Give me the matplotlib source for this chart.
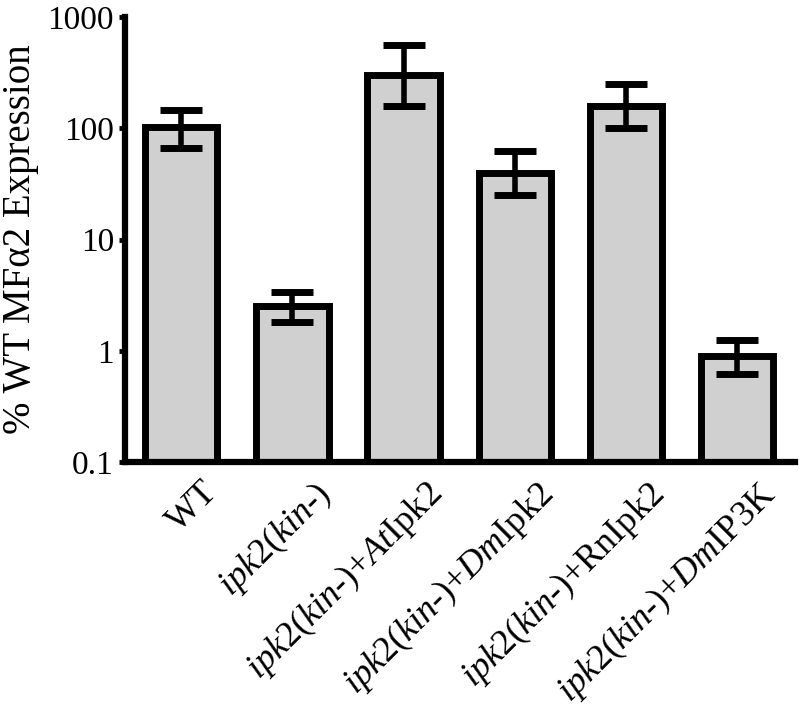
""" bar chart of MFa2 expression, log scale """
import matplotlib
matplotlib.use("Agg")
import matplotlib.pyplot as plt
import matplotlib.transforms as mtransforms
import numpy as np

plt.rcParams['font.family'] = ['Liberation Serif', 'DejaVu Serif']
plt.rcParams['mathtext.fontset'] = 'custom'
plt.rcParams['mathtext.rm'] = 'Liberation Serif'
plt.rcParams['mathtext.it'] = 'Liberation Serif:italic'

labels = [
    "WT",
    r"$\mathit{ipk2(kin}$-$\mathit{)}$",
    r"$\mathit{ipk2(kin}$-$\mathit{)}$+$\mathit{At}$Ipk2",
    r"$\mathit{ipk2(kin}$-$\mathit{)}$+$\mathit{Dm}$Ipk2",
    r"$\mathit{ipk2(kin}$-$\mathit{)}$+RnIpk2",
    r"$\mathit{ipk2(kin}$-$\mathit{)}$+$\mathit{Dm}$IP3K",
]
means = [102, 2.55, 300, 40, 160, 0.90]
err_low = [67, 1.8, 158, 25, 100, 0.62]
err_high = [145, 3.35, 560, 62, 250, 1.26]

means = np.array(means)
yerr = [means - np.array(err_low), np.array(err_high) - means]
x = np.arange(len(labels))

fig = plt.figure(figsize=(8, 7.13), dpi=100)
ax = fig.add_axes([0.15625, 0.352, 0.8375, 0.624])

ax.bar(x, means - 0.1, bottom=0.1, width=0.65, color="#d0d0d0",
       edgecolor="black", linewidth=5, zorder=2)
ax.errorbar(x, means, yerr=yerr, fmt="none", ecolor="black",
            elinewidth=4, capsize=15, capthick=5, zorder=3)

ax.set_yscale("log")
ax.set_ylim(0.1, 1000)
ax.set_xlim(-0.505, 5.52)
ax.set_yticks([0.1, 1, 10, 100, 1000])
ax.set_yticklabels(["0.1", "1", "10", "100", "1000"])
ax.minorticks_off()
ax.tick_params(axis="y", labelsize=24, width=3.5, length=4, pad=4)
ax.tick_params(axis="x", length=0, labelsize=26, pad=10)
ax.set_xticks(x)
ax.set_xticklabels(labels, rotation=45, ha="right", rotation_mode="anchor")
# labels sit a bit to the right of the bar centres
shift = mtransforms.ScaledTranslation(20 / 100, 0, fig.dpi_scale_trans)
for lab in ax.get_xticklabels():
    lab.set_transform(lab.get_transform() + shift)
ax.set_ylabel("% WT MF\u03b12 Expression", fontsize=28, labelpad=6)

for side in ["top", "right"]:
    ax.spines[side].set_visible(False)
for side in ["left", "bottom"]:
    ax.spines[side].set_linewidth(4.5)

fig.savefig("out.png", dpi=100)
